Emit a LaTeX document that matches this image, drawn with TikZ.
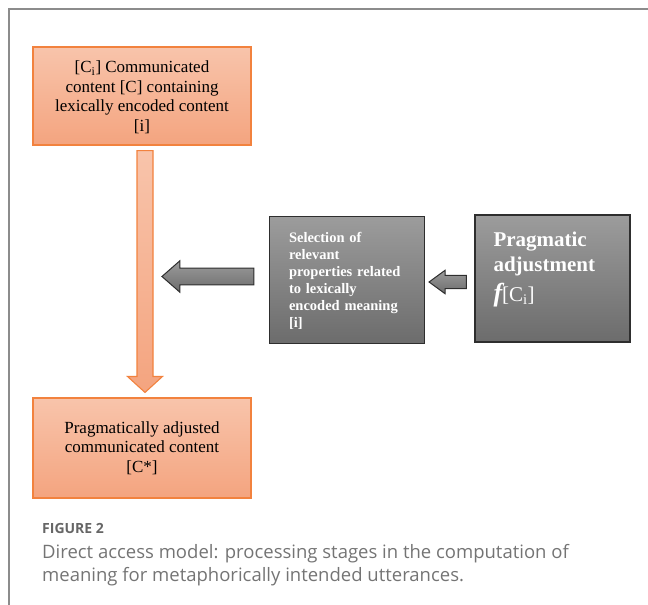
\documentclass[tikz,border=0pt]{standalone}
\usepackage{fontspec}
\setmainfont{Liberation Serif}
\newfontfamily\captionfont{Open Sans}
\usepackage{tikz}
\usetikzlibrary{calc}

\definecolor{boxedge}{HTML}{F2823E}
\definecolor{boxtop}{HTML}{F8C4AB}
\definecolor{boxbot}{HTML}{F4A47F}
\definecolor{greytop}{HTML}{9C9C9C}
\definecolor{greybot}{HTML}{6C6C6C}
\definecolor{greyedge}{HTML}{2E2E2E}
\definecolor{capfig}{HTML}{666666}
\definecolor{captext}{HTML}{747474}
\definecolor{framegrey}{HTML}{8C8C8C}

\tikzset{
  stage/.style={rectangle,draw=boxedge,line width=1.1pt,top color=boxtop,bottom color=boxbot,
    minimum width=218pt,align=center,font=\fontsize{17}{19.5}\selectfont,inner sep=0pt},
  process/.style={rectangle,draw=greyedge,line width=1.1pt,top color=greytop,bottom color=greybot,
    minimum width=155pt,minimum height=127pt,align=left,text=white,inner sep=0pt},
  blockarrow/.style={draw=greyedge,line width=1pt,top color=greytop,bottom color=greybot},
}

\begin{document}
\begin{tikzpicture}[x=1pt,y=-1pt]
  \useasboundingbox (0,0) rectangle (648,605);
  \draw[framegrey,line width=1.5pt] (9,605) -- (9,9) -- (648,9);

  % stages
  \node[stage,minimum height=98pt,text depth=0pt] (given) at (142,96)
    {[C\textsubscript{i}] Communicated\\content [C] containing\\lexically encoded content\\{[i]}};
  \node[stage,minimum height=100pt] (adjusted) at (142,448)
    {Pragmatically adjusted\\communicated content\\{[C*]}};
  \node[process,text width=116pt,text depth=85pt,font=\bfseries\fontsize{14.5}{17}\selectfont] (select) at (347,280)
    {Selection of\\relevant\\properties related\\to lexically\\encoded meaning\\{[i]}};
  \node[process,text width=118pt,text depth=79pt,font=\bfseries\fontsize{21}{25}\selectfont] (adjust) at (552.5,278.5)
    {Pragmatic\\adjustment\\[5pt]{\fontsize{26}{26}\selectfont\itshape f}\mdseries[C\textsubscript{i}]};

  % downward arrow
  \coordinate (down) at ($(given.south)+(3,5)$);
  \coordinate (downtip) at ($(adjusted.north)+(3,-5)$);
  \draw[boxedge,line width=1.1pt,top color=boxtop,bottom color=boxbot]
    ($(down)+(-8,0)$) -- ($(downtip)+(-8,-16)$) -- ($(downtip)+(-17.5,-16)$) -- (downtip)
    -- ($(downtip)+(17.5,-16)$) -- ($(downtip)+(8,-16)$) -- ($(down)+(8,0)$) -- cycle;

  % leftward arrows
  \coordinate (fromsel) at ($(select.west)+(-15,-3.5)$);
  \coordinate (tosel) at ($(fromsel)+(-92,0)$);
  \coordinate (fromadj) at ($(adjust.west)+(-8,3.5)$);
  \coordinate (toadj) at ($(select.east)+(4,2)$);
  \foreach \tail/\tip/\sh/\hh/\hl in {fromsel/tosel/8.3/15.8/18, fromadj/toadj/6.7/11.7/16} {
    \draw[blockarrow] ($(\tail)+(0,-\sh)$) -- ($(\tip)+(\hl,-\sh)$) -- ($(\tip)+(\hl,-\hh)$) -- (\tip)
      -- ($(\tip)+(\hl,\hh)$) -- ($(\tip)+(\hl,\sh)$) -- ($(\tail)+(0,\sh)$) -- cycle;
  }

  % caption
  \node[anchor=base west,inner sep=0pt,text=capfig,font=\captionfont\bfseries\fontsize{14}{17}\selectfont] (figlabel) at (42,533) {FIGURE 2};
  \node[anchor=north west,inner sep=0pt,align=left,text=captext,font=\captionfont\fontsize{18.5}{23}\selectfont] (caption) at (42,544)
    {Direct access model: processing stages in the computation of\\meaning for metaphorically intended utterances.};
\end{tikzpicture}
\end{document}
